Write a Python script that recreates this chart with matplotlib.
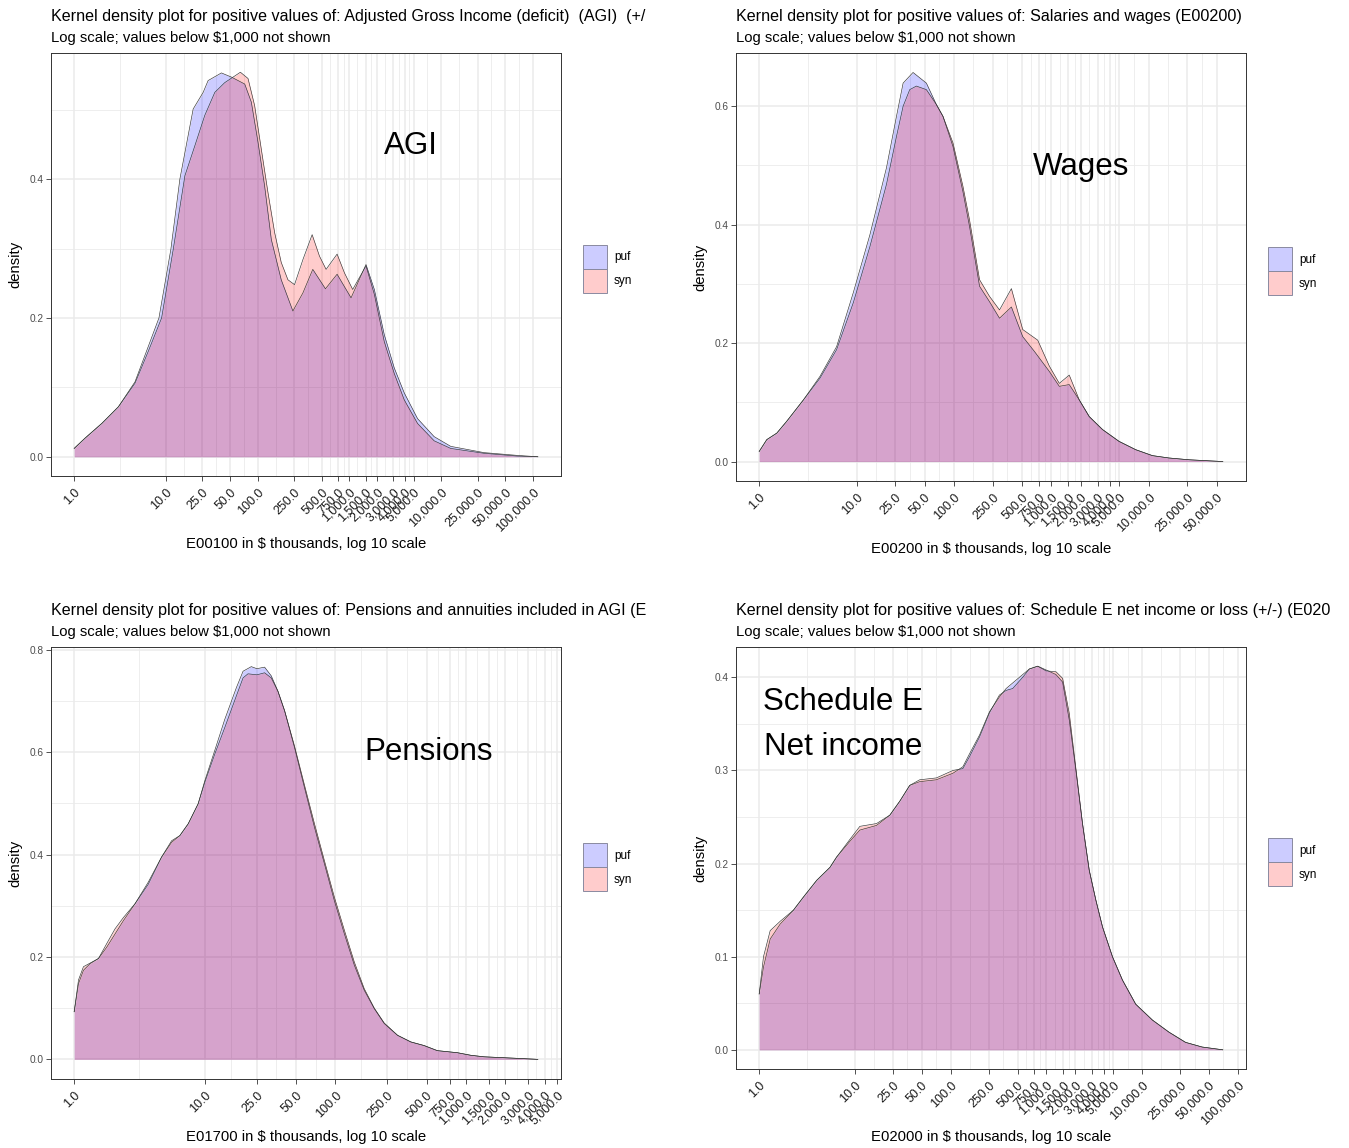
import matplotlib.pyplot as plt
import numpy as np
from matplotlib.patches import Patch

plt.rcParams['font.family'] = ['Liberation Sans', 'DejaVu Sans']

# x breaks in $ thousands (log10 axis)
breaks = [1, 10, 25, 50, 100, 250, 500, 750, 1000, 1500, 2000, 3000, 4000,
          5000, 10000, 25000, 50000, 100000]

# --- AGI (E00100) : x = log10($ thousands), y = density
agi_puf_x = [0.000, 0.120, 0.301, 0.482, 0.663, 0.808, 0.924, 1.054, 1.152, 1.297, 1.406, 1.460,
             1.605, 1.714, 1.859, 1.931, 2.004, 2.076, 2.149, 2.257, 2.384, 2.493, 2.601, 2.739,
             2.866, 3.018, 3.181, 3.272, 3.380, 3.489, 3.598, 3.743, 3.924, 4.105, 4.467, 4.830, 5.054]
agi_puf_y = [0.012, 0.027, 0.048, 0.072, 0.108, 0.159, 0.200, 0.299, 0.400, 0.501, 0.525, 0.542,
             0.553, 0.547, 0.537, 0.511, 0.453, 0.390, 0.313, 0.255, 0.210, 0.236, 0.270, 0.242,
             0.263, 0.229, 0.277, 0.241, 0.176, 0.128, 0.092, 0.055, 0.029, 0.015, 0.006, 0.002, 0.000]
agi_syn_x = [0.000, 0.120, 0.301, 0.482, 0.663, 0.808, 0.953, 1.080, 1.207, 1.315, 1.424, 1.533,
             1.641, 1.732, 1.812, 1.895, 1.967, 2.040, 2.112, 2.185, 2.257, 2.330, 2.402, 2.493,
             2.594, 2.674, 2.746, 2.866, 2.946, 3.036, 3.181, 3.272, 3.380, 3.489, 3.598, 3.743,
             3.924, 4.105, 4.467, 4.830, 5.054]
agi_syn_y = [0.012, 0.027, 0.048, 0.072, 0.106, 0.152, 0.200, 0.299, 0.405, 0.448, 0.492, 0.525,
             0.539, 0.547, 0.554, 0.545, 0.506, 0.443, 0.381, 0.323, 0.280, 0.255, 0.248, 0.284,
             0.320, 0.289, 0.270, 0.292, 0.265, 0.241, 0.275, 0.234, 0.166, 0.120, 0.082, 0.048,
             0.023, 0.012, 0.005, 0.001, 0.000]

# --- Wages (E00200)
wag_puf_x = [0.000, 0.078, 0.181, 0.283, 0.454, 0.625, 0.795, 0.966, 1.137, 1.307, 1.410, 1.478,
             1.580, 1.717, 1.819, 1.887, 1.990, 2.092, 2.160, 2.263, 2.365, 2.468, 2.590, 2.706,
             2.826, 2.980, 3.082, 3.184, 3.287, 3.389, 3.526, 3.696, 3.867, 4.038, 4.208, 4.413, 4.761]
wag_puf_y = [0.017, 0.037, 0.048, 0.068, 0.104, 0.144, 0.194, 0.285, 0.383, 0.496, 0.583, 0.639,
             0.657, 0.639, 0.603, 0.583, 0.532, 0.456, 0.397, 0.296, 0.270, 0.242, 0.261, 0.211,
             0.186, 0.152, 0.127, 0.130, 0.104, 0.076, 0.054, 0.034, 0.020, 0.010, 0.006, 0.003, 0.000]
wag_syn_x = [0.000, 0.078, 0.181, 0.283, 0.454, 0.625, 0.795, 0.966, 1.137, 1.307, 1.410, 1.478,
             1.546, 1.614, 1.717, 1.819, 1.887, 1.990, 2.092, 2.160, 2.263, 2.365, 2.468, 2.590,
             2.706, 2.860, 2.980, 3.082, 3.184, 3.287, 3.389, 3.526, 3.696, 3.867, 4.038, 4.208,
             4.413, 4.761]
wag_syn_y = [0.017, 0.037, 0.048, 0.068, 0.104, 0.141, 0.189, 0.268, 0.363, 0.468, 0.549, 0.600,
             0.628, 0.634, 0.628, 0.603, 0.583, 0.538, 0.465, 0.408, 0.307, 0.279, 0.256, 0.292,
             0.223, 0.205, 0.161, 0.132, 0.146, 0.104, 0.076, 0.054, 0.034, 0.020, 0.010, 0.006,
             0.003, 0.000]

# --- Pensions (E01700)
pen_puf_x = [0.000, 0.033, 0.071, 0.122, 0.186, 0.249, 0.313, 0.377, 0.466, 0.567, 0.669, 0.746,
             0.809, 0.873, 0.949, 1.000, 1.076, 1.153, 1.242, 1.293, 1.356, 1.399, 1.458, 1.509,
             1.560, 1.611, 1.687, 1.763, 1.840, 1.916, 1.992, 2.069, 2.145, 2.221, 2.298, 2.374,
             2.476, 2.578, 2.679, 2.781, 2.934, 3.036, 3.137, 3.392, 3.550]
pen_puf_y = [0.093, 0.148, 0.174, 0.187, 0.197, 0.219, 0.245, 0.271, 0.304, 0.346, 0.395, 0.424,
             0.437, 0.460, 0.499, 0.544, 0.603, 0.664, 0.726, 0.758, 0.767, 0.763, 0.766, 0.749,
             0.719, 0.681, 0.609, 0.531, 0.453, 0.382, 0.310, 0.245, 0.184, 0.135, 0.099, 0.070,
             0.047, 0.034, 0.027, 0.017, 0.013, 0.008, 0.005, 0.002, 0.000]
pen_syn_x = [0.000, 0.033, 0.071, 0.122, 0.186, 0.249, 0.313, 0.377, 0.466, 0.567, 0.669, 0.746,
             0.809, 0.873, 0.949, 1.000, 1.076, 1.153, 1.242, 1.293, 1.331, 1.399, 1.458, 1.509,
             1.560, 1.611, 1.687, 1.763, 1.840, 1.916, 1.992, 2.069, 2.145, 2.221, 2.298, 2.374,
             2.476, 2.578, 2.679, 2.781, 2.934, 3.036, 3.137, 3.392, 3.550]
pen_syn_y = [0.093, 0.155, 0.181, 0.188, 0.197, 0.226, 0.255, 0.277, 0.304, 0.342, 0.395, 0.427,
             0.437, 0.460, 0.499, 0.541, 0.596, 0.648, 0.710, 0.745, 0.753, 0.751, 0.755, 0.745,
             0.719, 0.681, 0.612, 0.536, 0.460, 0.388, 0.317, 0.252, 0.190, 0.138, 0.100, 0.071,
             0.047, 0.034, 0.027, 0.017, 0.013, 0.008, 0.005, 0.002, 0.000]

# --- Schedule E (E02000)
sch_puf_x = [0.000, 0.045, 0.115, 0.219, 0.358, 0.462, 0.601, 0.740, 0.809, 0.948, 1.052, 1.226,
             1.365, 1.469, 1.573, 1.677, 1.851, 2.024, 2.128, 2.198, 2.302, 2.406, 2.510, 2.580,
             2.649, 2.753, 2.823, 2.910, 2.997, 3.101, 3.170, 3.240, 3.309, 3.378, 3.448, 3.517,
             3.587, 3.691, 3.795, 3.934, 4.108, 4.281, 4.455, 4.628, 4.844]
sch_puf_y = [0.060, 0.089, 0.119, 0.135, 0.150, 0.164, 0.182, 0.196, 0.207, 0.224, 0.236, 0.241,
             0.252, 0.267, 0.284, 0.288, 0.290, 0.297, 0.304, 0.318, 0.338, 0.363, 0.379, 0.388,
             0.394, 0.403, 0.409, 0.412, 0.408, 0.403, 0.395, 0.354, 0.300, 0.243, 0.193, 0.161,
             0.132, 0.100, 0.075, 0.049, 0.032, 0.019, 0.008, 0.003, 0.000]
sch_syn_x = sch_puf_x
sch_syn_y = [0.060, 0.100, 0.128, 0.138, 0.150, 0.164, 0.182, 0.196, 0.207, 0.226, 0.240, 0.243,
             0.252, 0.267, 0.284, 0.290, 0.292, 0.300, 0.302, 0.315, 0.336, 0.362, 0.381, 0.386,
             0.388, 0.400, 0.409, 0.412, 0.407, 0.406, 0.399, 0.361, 0.302, 0.243, 0.193, 0.161,
             0.132, 0.100, 0.075, 0.049, 0.032, 0.019, 0.008, 0.003, 0.000]

# titles as far as they are visible in each panel
titles = ["Adjusted Gross Income (deficit)  (AGI)  (+/",
          "Salaries and wages (E00200)",
          "Pensions and annuities included in AGI (E",
          "Schedule E net income or loss (+/-) (E020"]
varnames = ["E00100", "E00200", "E01700", "E02000"]
labels = ["AGI", "Wages", "Pensions", "Schedule E\nNet income"]
label_pos = [(4700, 0.448), (2000, 0.497), (520, 0.6), (7.5, 0.349)]
yticks = [[0, 0.2, 0.4], [0, 0.2, 0.4, 0.6], [0, 0.2, 0.4, 0.6, 0.8], [0, 0.1, 0.2, 0.3, 0.4]]

series = [(agi_puf_x, agi_puf_y, agi_syn_x, agi_syn_y),
          (wag_puf_x, wag_puf_y, wag_syn_x, wag_syn_y),
          (pen_puf_x, pen_puf_y, pen_syn_x, pen_syn_y),
          (sch_puf_x, sch_puf_y, sch_syn_x, sch_syn_y)]

W, H = 1349, 1148
fig = plt.figure(figsize=(W / 100, H / 100), dpi=100)

# panel rectangles in pixels: left, top, right, bottom
rects = [(51, 53, 561, 476), (736, 53, 1246, 481), (51, 647, 561, 1079), (736, 647, 1246, 1069)]

grid_col = '#ebebeb'
for i in range(4):
    l, t, r, b = rects[i]
    ax = fig.add_axes([l / W, 1 - b / H, (r - l) / W, (b - t) / H])
    px, py, sx, sy = series[i]
    px = 10 ** np.array(px); sx = 10 ** np.array(sx)

    ax.fill_between(px, 0, py, color='blue', alpha=0.2, lw=0, zorder=3)
    ax.plot(px, py, color='#333333', lw=0.45, zorder=4)
    ax.fill_between(sx, 0, sy, color='red', alpha=0.2, lw=0, zorder=3)
    ax.plot(sx, sy, color='#333333', lw=0.45, zorder=4)

    ax.set_xscale('log')
    lo, hi = 0.0, max(np.log10(px).max(), np.log10(sx).max())
    d = 0.05 * (hi - lo)
    ax.set_xlim(10 ** (lo - d), 10 ** (hi + d))
    ymax = max(max(py), max(sy))
    ax.set_ylim(-0.05 * ymax, 1.05 * ymax)

    # grid like ggplot: majors at breaks, minors halfway (log space)
    vis = [v for v in breaks if 10 ** (lo - d) <= v <= 10 ** (hi + d)]
    lb = np.log10(vis)
    minors = 10 ** ((lb[:-1] + lb[1:]) / 2)
    for m in minors:
        ax.axvline(m, color=grid_col, lw=0.6, zorder=0)
    for v in vis:
        ax.axvline(v, color=grid_col, lw=1.1, zorder=0)
    yt = yticks[i]
    ystep = yt[1] - yt[0]
    for v in np.arange(yt[0] - ystep / 2, 1.05 * ymax, ystep):
        ax.axhline(v, color=grid_col, lw=0.6, zorder=0)
    for v in yt:
        ax.axhline(v, color=grid_col, lw=1.1, zorder=0)

    ax.set_xticks(vis)
    ax.set_xticklabels([f"{v:,.1f}" for v in vis], rotation=45, ha='right', va='top',
                       rotation_mode='anchor', fontsize=9, color='#1a1a1a')
    ax.xaxis.set_minor_locator(plt.NullLocator())
    ax.set_yticks(yt)
    ax.set_yticklabels([f"{v:.1f}" for v in yt], fontsize=7.3, color='#4d4d4d')
    ax.tick_params(length=3.5, width=0.6, color='#333333', pad=2)
    ax.tick_params(axis='x', pad=4)
    for s in ax.spines.values():
        s.set_color('#333333')
        s.set_linewidth(0.7)

    ax.text(0.5, -(68 if i != 2 else 58) / (b - t), f"{varnames[i]} in $ thousands, log 10 scale",
            transform=ax.transAxes, ha='center', va='center', fontsize=10.7)
    ax.text(-36 / (r - l), 0.5, "density", transform=ax.transAxes, rotation=90,
            ha='center', va='center', fontsize=10.7)

    lx, ly = label_pos[i]
    ax.text(lx, ly, labels[i], ha='center', va='center', fontsize=22.5, linespacing=1.66, zorder=5)

    handles = [Patch(facecolor=(0, 0, 1, 0.2), edgecolor='#8a8aa0', lw=0.7),
               Patch(facecolor=(1, 0, 0, 0.2), edgecolor='#8a8aa0', lw=0.7)]
    ax.legend(handles, ['puf', 'syn'], loc='center left', bbox_to_anchor=(1.043, 0.49),
              frameon=False, fontsize=8.5, handlelength=2.03, handleheight=2.75,
              labelspacing=0.0, handletextpad=0.6, borderaxespad=0, borderpad=0)

    fig.text(l / W, 1 - (t - 37) / H, "Kernel density plot for positive values of: " + titles[i],
             ha='left', va='center', fontsize=11.6)
    fig.text(l / W, 1 - (t - 15) / H, "Log scale; values below $1,000 not shown",
             ha='left', va='center', fontsize=10.7)

fig.savefig('out.png', dpi=100, facecolor='white')
